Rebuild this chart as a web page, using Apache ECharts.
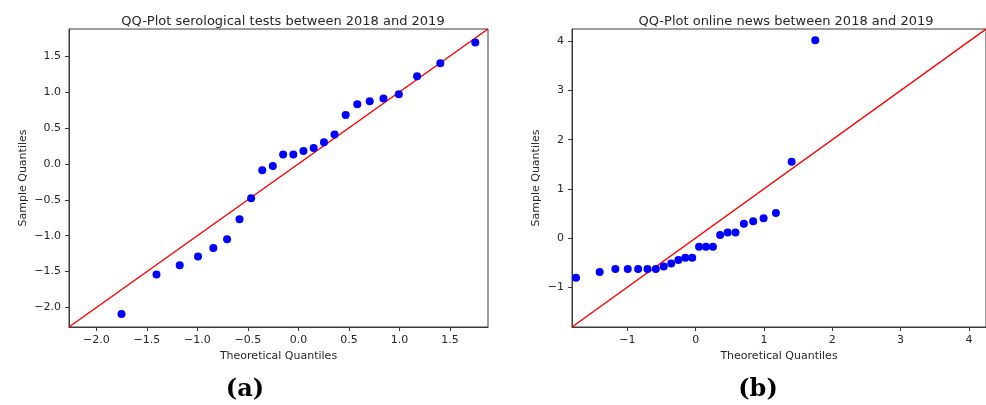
<!DOCTYPE html>
<html>
<head>
<meta charset="utf-8">
<title>QQ-Plots</title>
<script src="https://cdn.jsdelivr.net/npm/echarts@6/dist/echarts.min.js"></script>
<style>
  html, body { margin: 0; padding: 0; background: #fff; }
  #chart { width: 986px; height: 405px; }
</style>
</head>
<body>
<div id="chart"></div>
<script>
// Theoretical normal quantiles (24 observations per panel)
const theoreticalQuantiles = [-1.751, -1.405, -1.175, -0.994, -0.842, -0.706, -0.583, -0.468,
  -0.358, -0.253, -0.151, -0.050, 0.050, 0.151, 0.253, 0.358,
  0.468, 0.583, 0.706, 0.842, 0.994, 1.175, 1.405, 1.751];

// Standardised sample quantiles: serological tests
const serologicalSample = [-2.09, -1.54, -1.41, -1.29, -1.17, -1.05, -0.77, -0.48,
  -0.09, -0.03, 0.13, 0.13, 0.18, 0.22, 0.30, 0.41,
  0.68, 0.83, 0.87, 0.91, 0.97, 1.22, 1.40, 1.69];

// Standardised sample quantiles: online news
const newsSample = [-0.81, -0.69, -0.63, -0.63, -0.63, -0.63, -0.63, -0.58,
  -0.52, -0.45, -0.40, -0.40, -0.18, -0.18, -0.18, 0.06,
  0.11, 0.11, 0.29, 0.34, 0.40, 0.51, 1.55, 4.02];

// Shared axis limits of each panel (x and y use the same range)
const serologicalLimits = [-2.271, 1.877];
const newsLimits = [-1.81, 4.25];

// Tick values
const serologicalTicks = [-2.0, -1.5, -1.0, -0.5, 0.0, 0.5, 1.0, 1.5];
const newsTicks = [-1, 0, 1, 2, 3, 4];

const titles = ['QQ-Plot serological tests between 2018 and 2019',
                'QQ-Plot online news between 2018 and 2019'];

const FONT = '"DejaVu Sans", sans-serif';
const INK = '#262626';

const minus = s => String(s).replace('-', '\u2212');

function makeAxis(gridIndex, limits, ticks, decimals, name, isY) {
  const fmt = v => minus(decimals ? Number(v).toFixed(decimals) : String(Math.round(v)));
  return {
    type: 'value',
    gridIndex: gridIndex,
    min: limits[0],
    max: limits[1],
    name: name,
    nameLocation: 'middle',
    nameGap: isY ? (gridIndex === 0 ? 40 : 30) : 21,
    nameTextStyle: { fontFamily: FONT, fontSize: 11, color: INK,
                     verticalAlign: isY ? 'bottom' : 'top' },
    axisLine: { show: true, onZero: false, lineStyle: { color: '#3a3a3a', width: 1 } },
    axisTick: { show: true, inside: false, length: 4, customValues: ticks,
                lineStyle: { color: '#3a3a3a', width: 1 } },
    axisLabel: { show: true, margin: 8, customValues: ticks, formatter: fmt,
                 fontFamily: FONT, fontSize: 11, color: INK },
    splitLine: { show: false }
  };
}

const chart = echarts.init(document.getElementById('chart'), null, { renderer: 'canvas' });

const pts = (xs, ys) => xs.map((x, i) => [x, ys[i]]);

const panelLabel = letter => ({
  text: '{p|(}{b|' + letter + '}{p|)}',
  top: 373, textAlign: 'center',
  textStyle: { rich: {
    p: { fontFamily: '"DejaVu Serif", serif', fontSize: 24, color: '#000' },
    b: { fontFamily: '"DejaVu Serif", serif', fontSize: 24, fontWeight: 'bold', color: '#000' } } }
});

chart.setOption({
  animation: false,
  backgroundColor: '#ffffff',
  title: [
    { text: titles[0], left: 278, top: 10, textAlign: 'center',
      textStyle: { fontFamily: FONT, fontSize: 13, fontWeight: 'normal', color: INK } },
    { text: titles[1], left: 781, top: 10, textAlign: 'center',
      textStyle: { fontFamily: FONT, fontSize: 13, fontWeight: 'normal', color: INK } },
    Object.assign(panelLabel('a'), { left: 240 }),
    Object.assign(panelLabel('b'), { left: 753 })
  ],
  grid: [
    { left: 69, top: 29, width: 419, height: 298, show: true,
      borderColor: '#3a3a3a', borderWidth: 1, backgroundColor: 'transparent' },
    { left: 572, top: 29, width: 415, height: 298, show: true,
      borderColor: '#3a3a3a', borderWidth: 1, backgroundColor: 'transparent' }
  ],
  xAxis: [
    makeAxis(0, serologicalLimits, serologicalTicks, 1, 'Theoretical Quantiles', false),
    makeAxis(1, newsLimits, newsTicks, 0, 'Theoretical Quantiles', false)
  ],
  yAxis: [
    makeAxis(0, serologicalLimits, serologicalTicks, 1, 'Sample Quantiles', true),
    makeAxis(1, newsLimits, newsTicks, 0, 'Sample Quantiles', true)
  ],
  series: [
    { type: 'scatter', xAxisIndex: 0, yAxisIndex: 0, symbol: 'circle', symbolSize: 8,
      itemStyle: { color: '#0000ff', opacity: 1 }, data: pts(theoreticalQuantiles, serologicalSample), z: 3 },
    { type: 'line', xAxisIndex: 0, yAxisIndex: 0, symbol: 'none', clip: true,
      lineStyle: { color: '#ff0000', width: 1.5 },
      data: [[serologicalLimits[0], serologicalLimits[0]], [serologicalLimits[1], serologicalLimits[1]]], z: 2 },
    { type: 'scatter', xAxisIndex: 1, yAxisIndex: 1, symbol: 'circle', symbolSize: 8,
      itemStyle: { color: '#0000ff', opacity: 1 }, data: pts(theoreticalQuantiles, newsSample), z: 3 },
    { type: 'line', xAxisIndex: 1, yAxisIndex: 1, symbol: 'none', clip: true,
      lineStyle: { color: '#ff0000', width: 1.5 },
      data: [[newsLimits[0], newsLimits[0]], [newsLimits[1], newsLimits[1]]], z: 2 }
  ]
});
</script>
</body>
</html>
